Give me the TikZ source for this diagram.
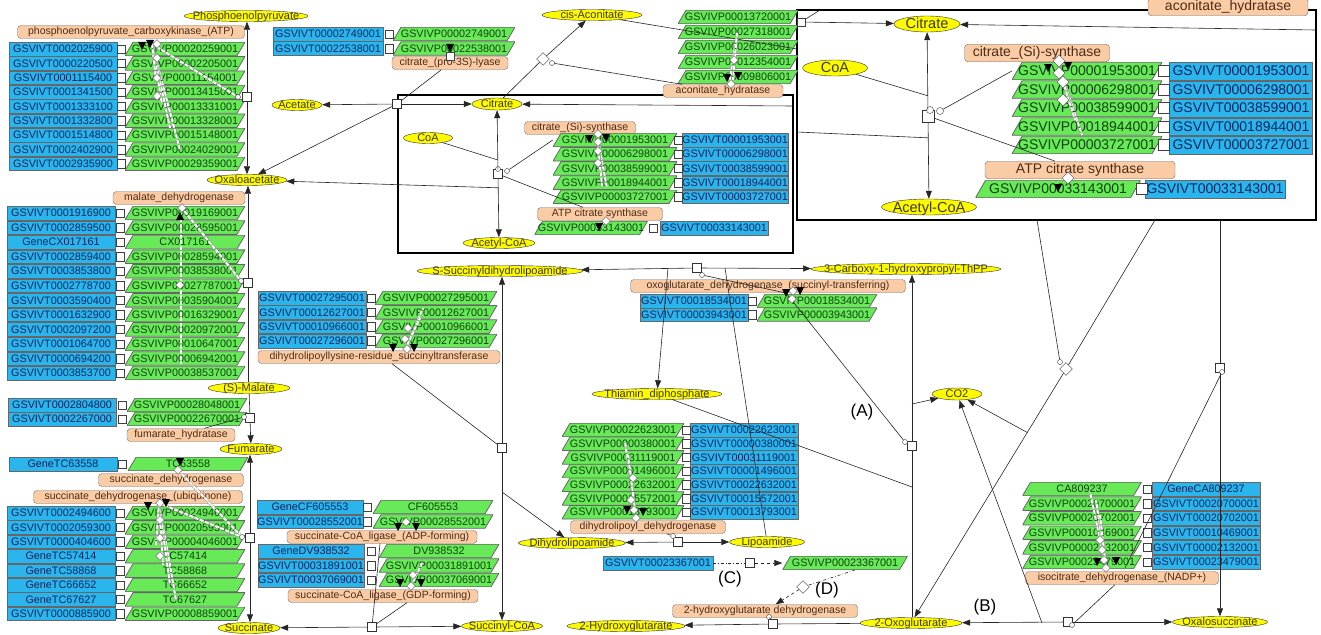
\documentclass[tikz,border=0pt]{standalone}
\usepackage{fontspec}
\setmainfont{Liberation Sans}
\usepackage{xcolor}
\usepackage{tikz}
\usetikzlibrary{shapes,arrows.meta,positioning,calc}

\definecolor{gblue}{RGB}{42,182,236}
\definecolor{gbluetxt}{RGB}{12,36,96}
\definecolor{pgreen}{RGB}{104,234,88}
\definecolor{pgreentxt}{RGB}{14,66,14}
\definecolor{eorange}{RGB}{250,204,166}
\definecolor{eorangetxt}{RGB}{78,44,20}
\definecolor{myellow}{RGB}{252,250,0}
\definecolor{myellowtxt}{RGB}{66,56,8}

\newcommand{\gfont}{\fontsize{10.8}{12}\selectfont}
\newcommand{\bfont}{\fontsize{14}{15}\selectfont}
% black tips of the catalysis bundles
\newcommand{\btip}[2]{\fill (#1,#2) -- ++(-4,-8) -- ++(8,0) -- cycle;}
\newcommand{\btipup}[2]{\fill (#1,#2) -- ++(-4,8) -- ++(8,0) -- cycle;}

\begin{document}
\begin{tikzpicture}[x=1pt, y=-1pt,
  nobox/.style={execute at begin node={\hbox to 0pt\bgroup\hss},
                execute at end node={\hss\egroup}},
  mark r/.style={path picture={\fill ([xshift=-3pt,yshift=-4pt]path picture bounding box.east)
                 rectangle ([yshift=4pt]path picture bounding box.east);}},
  mark l/.style={path picture={\fill ([yshift=-4pt]path picture bounding box.west)
                 rectangle ([xshift=3pt,yshift=4pt]path picture bounding box.west);}},
  slant/.style={path picture={\filldraw[fill=pgreen, draw=black!60, line width=0.8pt]
                 (path picture bounding box.south west)
                 -- ([xshift=-#1]path picture bounding box.south east)
                 -- (path picture bounding box.north east)
                 -- ([xshift=#1]path picture bounding box.north west) -- cycle;}},
  gene/.style={rectangle, draw=black!60, fill=gblue, text=gbluetxt, font=\gfont, nobox,
               inner sep=0, minimum width=108, minimum height=13.6},
  prot/.style={rectangle, slant=8pt, text=pgreentxt, font=\gfont, nobox,
               inner sep=0, minimum width=120, minimum height=13.6},
  geneB/.style={gene, font=\bfont, minimum width=143, minimum height=17.5},
  protB/.style={prot, slant=10pt, font=\bfont, minimum width=150, minimum height=17.5},
  met/.style={ellipse, draw=black!80, fill=myellow, text=myellowtxt,
              font=\fontsize{11}{12}\selectfont, nobox, inner sep=0,
              text height=7.5pt, text depth=0pt, minimum height=11},
  metB/.style={met, font=\fontsize{14.5}{15}\selectfont, text height=10pt, minimum height=16},
  enz/.style={rectangle, rounded corners=3.5pt, draw=black!55, fill=eorange, text=eorangetxt,
              font=\fontsize{10.5}{12}\selectfont, nobox, inner sep=0, minimum height=13},
  enzB/.style={enz, font=\bfont, minimum height=17.5},
  jn/.style={rectangle, draw=black!75, fill=white, inner sep=0, minimum size=8.5},
  jnB/.style={jn, minimum size=11},
  rx/.style={rectangle, draw=black!80, fill=white, inner sep=0, minimum size=9},
  ci/.style={circle, draw=black!80, fill=white, inner sep=0, minimum size=5},
  dm/.style={diamond, draw=black!70, fill=white, inner sep=0, minimum size=9},
  dmB/.style={dm, minimum size=12},
  cat/.style={draw=black!50, double=white, double distance=2pt, line width=0.45pt,
              dash pattern=on 4pt off 1.5pt},
  ln/.style={draw=black!85, line width=0.6pt},
  arr/.style={ln, ->, >={Triangle[length=8pt, width=6pt]}},
  lab/.style={font=\fontsize{17}{18}\selectfont},
  boxframe/.style={draw=black, line width=2pt, inner sep=0}
]
\useasboundingbox (0,0) rectangle (1321,634);

% frames: citrate synthase part and its close-up
\node[boxframe, minimum width=395, minimum height=158] (cbox) at (595.5,174) {};
\node[boxframe, line width=2.5pt, fill=white, minimum width=519, minimum height=210] (zbox) at (1056.5,115) {};

% metabolites
\node[met, minimum width=124] (pep) at (246,16) {Phosphoenolpyruvate};
\node[met, minimum width=100] (cisacon) at (592,15) {cis-Aconitate};
\node[met, minimum width=50] (acetate) at (297,105) {Acetate};
\node[met, minimum width=50, minimum height=12] (cit) at (497,104) {Citrate};
\node[met, minimum width=80] (oaa) at (247,180) {Oxaloacetate};
\node[met, minimum width=49] (coa) at (428,138) {CoA};
\node[met, minimum width=72] (acoa) at (499,243) {Acetyl-CoA};
\node[met, minimum width=166] (ssdl) at (500,271) {S-Succinyldihydrolipoamide};
\node[met, minimum width=190] (chp) at (906,269) {3-Carboxy-1-hydroxypropyl-ThPP};
\node[met, minimum width=130] (tdp) at (657,394) {Thiamin\_diphosphate};
\node[met, minimum width=50, minimum height=12] (co2) at (957,394) {CO2};
\node[met, minimum width=82] (mal) at (249,388) {(S)-Malate};
\node[met, minimum width=62] (fum) at (251,449) {Fumarate};
\node[met, minimum width=62] (succ) at (249,628) {Succinate};
\node[met, minimum width=81] (scoa) at (502,626) {Succinyl-CoA};
\node[met, minimum width=107] (dhl) at (572,543) {Dihydrolipoamide};
\node[met, minimum width=75] (lip) at (767,542) {Lipoamide};
\node[met, minimum width=118] (hg) at (626,626) {2-Hydroxyglutarate};
\node[met, minimum width=102] (og) at (911,623) {2-Oxoglutarate};
\node[met, minimum width=95] (oxs) at (1220,622) {Oxalosuccinate};
\node[metB, minimum width=66] (citB) at (927,24) {Citrate};
\node[metB, minimum width=65] (coaB) at (835,68) {CoA};
\node[metB, minimum width=95] (acoaB) at (929,207) {Acetyl-CoA};

% enzymes
\node[enz, minimum width=227] (pepck) at (131,32) {phosphoenolpyruvate\_carboxykinase\_(ATP)};
\node[enz, minimum width=116] (lyase) at (450,63) {citrate\_(pro-3S)-lyase};
\node[enz, minimum width=120] (aconhyd) at (723,91) {aconitate\_hydratase};
\node[enz, minimum width=111] (csyn) at (580,128) {citrate\_(Si)-synthase};
\node[enz, minimum width=125] (acl) at (600,214) {ATP citrate synthase};
\node[enz, minimum width=132] (mdh) at (179,198) {malate\_dehydrogenase};
\node[enz, minimum width=242] (dlst) at (379,357) {dihydrolipoyllysine-residue\_succinyltransferase};
\node[enz, minimum width=275] (ogdh) at (768,286) {oxoglutarate\_dehydrogenase\_(succinyl-transferring)};
\node[enz, minimum width=108] (fh) at (181,435) {fumarate\_hydratase};
\node[enz, minimum width=145] (sdh) at (171,480) {succinate\_dehydrogenase};
\node[enz, minimum width=209] (sdhq) at (138,497) {succinate\_dehydrogenase\_(ubiquinone)};
\node[enz, minimum width=190] (scsa) at (382,537) {succinate-CoA\_ligase\_(ADP-forming)};
\node[enz, minimum width=190] (scsg) at (383,596) {succinate-CoA\_ligase\_(GDP-forming)};
\node[enz, minimum width=155] (dld) at (648,527) {dihydrolipoyl\_dehydrogenase};
\node[enz, minimum width=193] (idh) at (1122,578) {isocitrate\_dehydrogenase\_(NADP+)};
\node[enz, minimum width=185] (hgdh) at (765,611) {2-hydroxyglutarate dehydrogenase};
\node[enzB, minimum width=145] (csynB) at (1037,53) {citrate\_(Si)-synthase};
\node[enzB, minimum width=190] (aclB) at (1080,170) {ATP citrate synthase};
\node[enzB, minimum width=160] (aconB) at (1228,7) {aconitate\_hydratase};

% genes and gene products
\foreach \bn/\pn [count=\i] in {GSVIVT0002025900/GSVIVP00020259001, GSVIVT0000220500/GSVIVP00002205001,
    GSVIVT0001115400/GSVIVP00011154001, GSVIVT0001341500/GSVIVP00013415001,
    GSVIVT0001333100/GSVIVP00013331001, GSVIVT0001332800/GSVIVP00013328001,
    GSVIVT0001514800/GSVIVP00015148001, GSVIVT0002402900/GSVIVP00024029001,
    GSVIVT0002935900/GSVIVP00029359001} {
  \node[gene, mark r] (gA\i) at (63,{49+14.35*(\i-1)}) {\bn};
  \node[prot] (pA\i) at (185,{49+14.35*(\i-1)}) {\pn};
  \node[jn] (jnA\i) at (121,{49+14.35*(\i-1)}) {};
}
\foreach \bn/\pn [count=\i] in {GSVIVT00002749001/GSVIVP00002749001, GSVIVT00022538001/GSVIVP00022538001} {
  \node[gene, minimum width=110] (gB\i) at (328,{34+14.5*(\i-1)}) {\bn};
  \node[prot, minimum width=122] (pB\i) at (454,{34+14.5*(\i-1)}) {\pn};
  \node[jn] (jnB\i) at (389,{34+14.5*(\i-1)}) {};
}
\foreach \pn [count=\i] in {GSVIVP00013720001, GSVIVP00027318001, GSVIVP00026023001,
    GSVIVP00012354001, GSVIVP00009806001}
  \node[prot] (pC\i) at (738,{17+15*(\i-1)}) {\pn};
\foreach \bn/\pn [count=\i] in {GSVIVT00001953001/GSVIVP00001953001, GSVIVT00006298001/GSVIVP00006298001,
    GSVIVT00038599001/GSVIVP00038599001, GSVIVT00018944001/GSVIVP00018944001,
    GSVIVT00003727001/GSVIVP00003727001} {
  \node[prot, minimum width=124] (pD\i) at (615,{140+14.2*(\i-1)}) {\pn};
  \node[gene, mark l, minimum width=106] (gD\i) at (735,{140+14.2*(\i-1)}) {\bn};
  \node[jn] (jnD\i) at (678,{140+14.2*(\i-1)}) {};
  \node[protB] (pZ\i) at (1087,{71+18.5*(\i-1)}) {\pn};
  \node[geneB, mark l] (gZ\i) at (1241,{71+18.5*(\i-1)}) {\bn};
  \node[jnB] (jnZ\i) at (1164,{71+18.5*(\i-1)}) {};
}
\node[prot, minimum width=113] (pY) at (591,228) {GSVIVP00033143001};
\node[gene, mark l] (gY) at (714,228) {GSVIVT00033143001};
\node[jn] (jnY) at (653,228) {};
\node[protB, minimum width=165] (pX) at (1058,189) {GSVIVP00033143001};
\node[geneB, mark l, minimum width=140] (gX) at (1215,189) {GSVIVT00033143001};
\node[jnB] (jnX) at (1142,189) {};
\foreach \bn/\pn [count=\i] in {GSVIVT0001916900/GSVIVP00019169001, GSVIVT0002859500/GSVIVP00028595001,
    GeneCX017161/CX017161, GSVIVT0002859400/GSVIVP00028594001,
    GSVIVT0003853800/GSVIVP00038538001, GSVIVT0002778700/GSVIVP00027787001,
    GSVIVT0003590400/GSVIVP00035904001, GSVIVT0001632900/GSVIVP00016329001,
    GSVIVT0002097200/GSVIVP00020972001, GSVIVT0001064700/GSVIVP00010647001,
    GSVIVT0000694200/GSVIVP00006942001, GSVIVT0003853700/GSVIVP00038537001} {
  \node[gene, mark r] (gE\i) at (61,{213+14.55*(\i-1)}) {\bn};
  \node[prot] (pE\i) at (185,{213+14.55*(\i-1)}) {\pn};
  \node[jn] (jnE\i) at (120,{213+14.55*(\i-1)}) {};
}
\foreach \bn/\pn [count=\i] in {GSVIVT0002804800/GSVIVP00028048001, GSVIVT0002267000/GSVIVP00022670001} {
  \node[gene, mark r] (gF\i) at (62,{405+14*(\i-1)}) {\bn};
  \node[prot] (pF\i) at (187,{405+14*(\i-1)}) {\pn};
  \node[jn] (jnF\i) at (122,{405+14*(\i-1)}) {};
}
\node[gene, mark r] (gG) at (63,464) {GeneTC63558};
\node[prot] (pG) at (188,464) {TC63558};
\node[jn] (jnG) at (122,464) {};
\foreach \bn/\pn [count=\i] in {GSVIVT0002494600/GSVIVP00024946001, GSVIVT0002059300/GSVIVP00020593001,
    GSVIVT0000404600/GSVIVP00004046001, GeneTC57414/TC57414, GeneTC58868/TC58868,
    GeneTC66652/TC66652, GeneTC67627/TC67627, GSVIVT0000885900/GSVIVP00008859001} {
  \node[gene, mark r] (gH\i) at (61,{513+14.4*(\i-1)}) {\bn};
  \node[prot] (pH\i) at (185,{513+14.4*(\i-1)}) {\pn};
  \node[jn] (jnH\i) at (120,{513+14.4*(\i-1)}) {};
}
\foreach \bn/\pn [count=\i] in {GSVIVT00027295001/GSVIVP00027295001, GSVIVT00012627001/GSVIVP00012627001,
    GSVIVT00010966001/GSVIVP00010966001, GSVIVT00027296001/GSVIVP00027296001} {
  \node[gene, mark r] (gI\i) at (312,{298+14.3*(\i-1)}) {\bn};
  \node[prot, minimum width=122] (pI\i) at (436,{298+14.3*(\i-1)}) {\pn};
  \node[jn] (jnI\i) at (371,{298+14.3*(\i-1)}) {};
}
\foreach \bn/\pn [count=\i] in {GeneCF605553/CF605553, GSVIVT00028552001/GSVIVP00028552001} {
  \node[gene, mark r, minimum width=106] (gJ\i) at (310,{507+14.5*(\i-1)}) {\bn};
  \node[prot] (pJ\i) at (433,{507+14.5*(\i-1)}) {\pn};
  \node[jn] (jnJ\i) at (367,{507+14.5*(\i-1)}) {};
}
\foreach \bn/\pn [count=\i] in {GeneDV938532/DV938532, GSVIVT00031891001/GSVIVP00031891001,
    GSVIVT00037069001/GSVIVP00037069001} {
  \node[gene, mark r, minimum width=106] (gK\i) at (311,{551+14.5*(\i-1)}) {\bn};
  \node[prot] (pK\i) at (439,{551+14.5*(\i-1)}) {\pn};
  \node[jn] (jnK\i) at (371,{551+14.5*(\i-1)}) {};
}
\foreach \bn/\pn [count=\i] in {GSVIVT00018534001/GSVIVP00018534001, GSVIVT00003943001/GSVIVP00003943001} {
  \node[gene, mark r] (gL\i) at (694,{301+13.5*(\i-1)}) {\bn};
  \node[prot] (pL\i) at (817,{301+13.5*(\i-1)}) {\pn};
  \node[jn] (jnL\i) at (752,{301+13.5*(\i-1)}) {};
}
\foreach \bn/\pn [count=\i] in {GSVIVT00022623001/GSVIVP00022623001, GSVIVT00000380001/GSVIVP00000380001,
    GSVIVT00031119001/GSVIVP00031119001, GSVIVT00001496001/GSVIVP00001496001,
    GSVIVT00022632001/GSVIVP00022632001, GSVIVT00015572001/GSVIVP00015572001,
    GSVIVT00013793001/GSVIVP00013793001} {
  \node[prot, minimum width=122] (pM\i) at (623,{430+13.7*(\i-1)}) {\pn};
  \node[gene, mark l] (gM\i) at (744,{430+13.7*(\i-1)}) {\bn};
  \node[jn] (jnM\i) at (686,{430+13.7*(\i-1)}) {};
}
\node[gene, minimum width=110] (gN) at (658,563) {GSVIVT00023367001};
\node[prot, minimum width=125] (pN) at (845,563) {GSVIVP00023367001};
\foreach \bn/\pn [count=\i] in {GeneCA809237/CA809237, GSVIVT00020700001/GSVIVP00020700001,
    GSVIVT00020702001/GSVIVP00020702001, GSVIVT00010469001/GSVIVP00010469001,
    GSVIVT00002132001/GSVIVP00002132001, GSVIVT00023479001/GSVIVP00023479001} {
  \node[prot, minimum width=119] (pO\i) at (1082,{489+14.6*(\i-1)}) {\pn};
  \node[gene, mark l] (gO\i) at (1206,{489+14.6*(\i-1)}) {\bn};
  \node[jn] (jnO\i) at (1147,{489+14.6*(\i-1)}) {};
}

% reactions
\node[rx] (rpep) at (247,97) {};
\node[ci] (rpepc) at (238,97) {};
\node[rx] (rlya) at (397,104) {};
\node[jn] (jly) at (450,56) {};
\node[rx, rotate=45] (racon) at (543,59) {};
\node[ci] (raconc) at (552,63) {};
\node[rx] (rcs) at (498,174) {};
\node[ci] (rcsc) at (498,169) {};
\node[ci] (rcsd) at (507,171) {};
\node[rx, minimum size=12] (rcsB) at (928,116) {};
\node[ci, minimum size=7] (rcsBc) at (930,110) {};
\node[ci, minimum size=7] (rcsBd) at (940,111) {};
\node[jn] (zjn) at (801,22) {};
\node[rx] (rmd) at (248,283) {};
\node[ci] (rmdc) at (241,281) {};
\node[rx] (rfh) at (250,418) {};
\node[ci] (rfhc) at (244,417) {};
\node[rx] (rsd) at (250,538) {};
\node[ci] (rsdc) at (242,537) {};
\node[rx] (rsc) at (372,627) {};
\node[rx] (rdl) at (502,448) {};
\node[rx] (rog) at (697,268) {};
\node[ci] (rogc) at (702,275) {};
\node[rx] (rA) at (912,446) {};
\node[ci] (rAc) at (905,442) {};
\node[rx] (rdld) at (678,542) {};
\node[ci] (rdldc) at (673,536) {};
\node[rx] (rC) at (750,563) {};
\node[rx, rotate=45] (rD) at (803,587) {};
\node[rx] (rhg) at (773,624) {};
\node[ci] (rhgc) at (769,617) {};
\node[rx] (rB) at (1068,622) {};
\node[ci] (rBc) at (1072,625) {};
\node[rx, rotate=45] (ridh) at (1066,369) {};
\node[ci] (ridhc) at (1060,362) {};
\node[rx] (ridh2) at (1220,368) {};
\node[ci] (ridh2c) at (1222,372) {};

\node[lab] (labA) at (862,412) {(A)};
\node[lab] (labB) at (985,607) {(B)};
\node[lab] (labC) at (730,579) {(C)};
\node[lab] (labD) at (827,590) {(D)};

% free ends of connectors
\coordinate (cbE) at (793,106);
\coordinate (zW49) at (797,49);
\coordinate (zW132) at (797,132);
\coordinate (zE30) at (1315,30);
\coordinate (zN) at (820,10);
\coordinate (zS1) at (1037,220);
\coordinate (zS2) at (1155,220);
\coordinate (zS3) at (1220,220);
\coordinate (kB) at (1042,623);
\coordinate (kA) at (912,404);
\coordinate (kT) at (912,487);
\coordinate (kT1) at (668,268);
\coordinate (kL) at (725,268);
\coordinate (kD) at (502,492);
\coordinate (hid) at (1125,568);
\coordinate (hog) at (786,293);

% conversions
\draw[arr] (rpep) -- (rpep |- pep.south);
\draw[arr] (rpep) -- (rpep |- oaa.north);
\draw[arr] (rlya) -- (acetate);
\draw[arr] (rlya) -- (oaa);
\draw[arr] (rlya) -- (cit);
\draw[ln] (lyase) -- (rlya);
\draw[arr] (racon) -- (cisacon);
\draw[ln] (racon) -- (cit);
\draw[ln] (raconc) -- (aconhyd);
\draw[ln] (cisacon) -- (zW49);
\draw[arr] (cbE) -- (cit);
\draw[arr] (rcs) -- (cit);
\draw[arr] (rcs) -- (acoa);
\draw[ln] (coa) -- ($(rcs)!0.2!(cit)$);
\draw[arr] ($(rcs)!0.2!(acoa)$) -- (oaa);
\draw[ln] (rcsd) -- (pD1.west);
\draw[ln] (rcs) -- (acl);
\draw[arr] (rcsB) -- (citB);
\draw[arr] (rcsB) -- (acoaB);
\draw[ln] (coaB) -- ($(rcsB)!0.22!(citB)$);
\draw[ln] ($(rcsB)!0.24!(acoaB)$) -- (zW132);
\draw[ln] (rcsBd) -- (pZ1.west);
\draw[ln] (rcsB) -- (aclB);
\draw[arr] (zjn) -- (citB);
\draw[ln] (zjn) -- (zN);
\draw[arr] (zE30) -- (citB);
\draw[ln] (zS1) -- (ridhc);
\draw[ln] (zS2) -- (ridh);
\draw[arr] (ridh) -- (og);
\draw[arr] ($(ridh)!0.25!(og)$) -- (co2);
\draw[ln] (zS3) -- (ridh2);
\draw[arr] (ridh2) -- (oxs);
\draw[ln] (ridh2c) -- (hid);
\draw[arr] (rB) -- (og);
\draw[arr] (rB) -- (oxs);
\draw[ln] (rBc) -- (idh);
\draw[arr] (kB) -- (co2);
\draw[ln] (og) -- (rhg);
\draw[arr] (rhg) -- (hg);
\draw[ln] (rhgc) -- (hgdh);
\draw[arr] (rA) -- (rA |- chp.south);
\draw[ln] (rA) -- (rA |- og.north);
\draw[arr] (kA) -- (co2);
\draw[ln] (tdp) -- (kT);
\draw[ln] (rAc) -- (hog);
\draw[arr] (rog) -- (ssdl);
\draw[arr] (rog) -- (chp);
\draw[arr] (kT1) -- (tdp);
\draw[ln] (kL) -- (lip);
\draw[ln] (rogc) -- (hog);
\draw[arr] (rdl) -- (rdl |- ssdl.south);
\draw[arr] (rdl) -- (rdl |- scoa.north);
\draw[arr] (kD) -- (dhl);
\draw[ln] ([xshift=13pt]dlst.south) -- (rdl);
\draw[arr] (rdld) -- (dhl);
\draw[arr] (rdld) -- (lip);
\draw[ln] (rdldc) -- (dld);
\draw[ln, dash dot] (gN) -- (rC);
\draw[arr, dashed] (rC) -- (pN);
\draw[ln, dash dot] ([xshift=10pt]pN.south) -- (rD);
\draw[arr, dashed] (rD) -- (hgdh);
\draw[arr] (rmd) -- (rmd |- oaa.south);
\draw[ln] (rmd) -- (rmd |- mal.north);
\draw[ln] (mal) -- (rfh);
\draw[arr] (rfh) -- (fum);
\draw[ln] (rfhc) -- (fh);
\draw[arr] (rsd) -- (rsd |- fum.south);
\draw[arr] (rsd) -- (rsd |- succ.north);
\draw[arr] (rsc) -- (succ);
\draw[arr] (rsc) -- (scoa);
\draw[ln] (rsc) -- ([xshift=-2pt]scsa.south);
\draw[ln] (rsc) -- ([xshift=24pt]scsg.south);

% catalysis bundles
\coordinate (hpk) at (152,44);
\draw[cat] (hpk) -- (rpepc);
\foreach \x/\y in {180/150,170/128,162/104,156/80} \draw[cat] (hpk) -- (\x,\y);
\foreach \y [count=\k] in {44,58,78,96} \node[dm] (dpk\k) at (157,\y) {};
\btip{142}{50} \btip{150}{48}
\btip{450}{52}
\coordinate (hmd) at (181,207);
\draw[cat] (hmd) -- (rmdc);
\draw[cat] (hmd) -- (181,364);
\node[dm] (dmd1) at (182,208) {};
\node[dm] (dmd2) at (180,285) {};
\btipup{180}{212}
\coordinate (hsd) at (178,470);
\draw[cat] (hsd) -- (rsdc);
\node[dm] (dsd) at (178,470) {};
\btip{180}{466}
\coordinate (hsq) at (159,503);
\draw[cat] (hsq) -- (rsdc);
\foreach \x/\y in {176/600,170/585,163/565,156/545} \draw[cat] (hsq) -- (\x,\y);
\foreach \y [count=\k] in {503,520,538,556} \node[dm] (dsq\k) at (160,\y) {};
\btip{148}{510} \btip{166}{507}
\coordinate (hdl) at (405,350);
\foreach \x/\y in {423/308,420/318,416/326} \draw[cat] (hdl) -- (\x,\y);
\foreach \x/\y [count=\k] in {408/328,405/339,407/349} \node[dm] (ddl\k) at (\x,\y) {};
\btip{393}{352} \btip{414}{352}
\coordinate (hcs) at (597,134);
\foreach \x/\y in {607/188,602/186,600/170} \draw[cat] (hcs) -- (\x,\y);
\foreach \y [count=\k] in {134,142,151,163} \node[dm] (dcs\k) at (598,\y) {};
\btip{589}{143} \btip{606}{142}
\draw[cat] (606,221) -- (598,229);
\node[dm] (dacl) at (606,221) {};
\btip{599}{231}
\coordinate (hcsB) at (1057,60);
\foreach \x/\y in {1082/135,1075/120,1070/105} \draw[cat] (hcsB) -- (\x,\y);
\foreach \x/\y [count=\k] in {1059/61,1059/73,1063/82,1063/100} \node[dmB] (dcsB\k) at (\x,\y) {};
\btip{1048}{72} \btip{1068}{70}
\node[dmB] (daclB) at (1068,178) {};
\btip{1058}{192}
\coordinate (hac) at (737,33);
\foreach \x/\y in {729/86,733/80} \draw[cat] (hac) -- (\x,\y);
\node[dm] (dac1) at (734,60) {};
\node[dm] (dac2) at (731,84) {};
\btip{727}{82} \btip{738}{80}
\node[dm] (dog1) at (793,291) {};
\node[dm] (dog2) at (792,299) {};
\btip{786}{297} \btip{800}{295}
\coordinate (hdd) at (636,518);
\foreach \x/\y in {625/442,628/455,630/470} \draw[cat] (hdd) -- (\x,\y);
\foreach \x/\y [count=\k] in {633/478,631/500,634/510,636/518} \node[dm] (ddd\k) at (\x,\y) {};
\btip{627}{514} \btip{643}{516}
\node[dm] (dsa) at (406,522) {};
\btip{398}{531} \btip{416}{531}
\draw[cat] (422,563) -- (411,586);
\node[dm] (dsg1) at (413,575) {};
\node[dm] (dsg2) at (411,586) {};
\btip{400}{587} \btip{421}{587}
\coordinate (hid2) at (1106,568);
\foreach \x/\y in {1090/492,1096/500,1100/515} \draw[cat] (hid2) -- (\x,\y);
\foreach \x/\y [count=\k] in {1100/540,1102/550,1104/560,1106/568} \node[dm] (did\k) at (\x,\y) {};
\btip{1097}{566} \btip{1116}{565}
\end{tikzpicture}
\end{document}
